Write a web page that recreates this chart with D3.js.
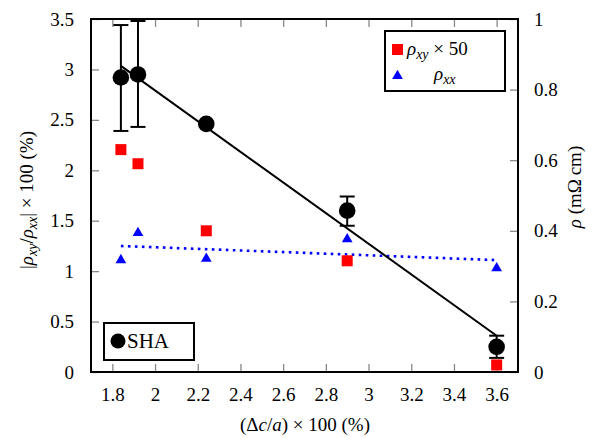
<!DOCTYPE html>
<html><head><meta charset="utf-8">
<script src="https://cdn.jsdelivr.net/npm/d3@7"></script>
<style>body{margin:0;background:#fff}</style>
</head><body><svg id="c" width="599" height="438"></svg>
<script>
// ---- data ----
const xVals = [1.84, 1.92, 2.24, 2.90, 3.60];
const shaVals = [2.92, 2.95, 2.46, 1.60, 0.25];
const shaErrHi = [3.44, 3.48, 2.46, 1.74, 0.36];
const shaErrLo = [2.39, 2.43, 2.46, 1.45, 0.14];
const rhoXY50 = [0.63, 0.59, 0.40, 0.315, 0.02];
const rhoXX = [0.32, 0.397, 0.324, 0.379, 0.297];
const shaFitX = [1.84, 3.60];
const shaFitY = [3.035, 0.36];
const rhoFitX = [1.84, 3.60];
const rhoFitY = [0.357, 0.317];
const xTicks = [1.8, 2, 2.2, 2.4, 2.6, 2.8, 3, 3.2, 3.4, 3.6];
const yLeftTicks = [0, 0.5, 1, 1.5, 2, 2.5, 3, 3.5];
const yRightTicks = [0, 0.2, 0.4, 0.6, 0.8, 1];

// pick an installed serif face
function detectFont(cands){
  const c = document.createElement("canvas").getContext("2d");
  const s = "mmmmmmwwwwlli 0123456789 SHA";
  const base = ["monospace", "sans-serif"].map(b => { c.font = "40px " + b; return c.measureText(s).width; });
  for (const f of cands){
    const ok = ["monospace", "sans-serif"].some((b, i) => { c.font = `40px "${f}", ${b}`; return c.measureText(s).width !== base[i]; });
    if (ok) return `"${f}", serif`;
  }
  return "serif";
}
const FONT = detectFont(["Liberation Serif", "DejaVu Serif", "Noto Serif", "Times New Roman", "Tinos", "FreeSerif", "Nimbus Roman", "Latin Modern Roman", "CMU Serif"]);

const svg = d3.select("#c");
const L = 91, R = 518, T = 19, B = 372;
const x = d3.scaleLinear().domain([1.7, 3.7]).range([L, R]);
const yL = d3.scaleLinear().domain([0, 3.5]).range([B, T]);
const yR = d3.scaleLinear().domain([0, 1]).range([B, T]);
const FS = 19;
const fmt = v => String(+v.toFixed(2));
const tickLen = 8, tickCol = "#888";

function styleAxis(g){
  g.attr("font-family", FONT).attr("font-size", FS);
  g.select(".domain").remove();
  g.selectAll(".tick line").attr("stroke", tickCol).attr("stroke-width", 1.3);
}
svg.append("g").attr("transform", `translate(0,${B})`)
  .call(d3.axisBottom(x).tickValues(xTicks).tickFormat(fmt).tickSizeInner(-tickLen).tickSizeOuter(0).tickPadding(16))
  .call(styleAxis);
svg.append("g").attr("transform", `translate(0,${T})`)
  .call(d3.axisTop(x).tickValues(xTicks).tickFormat("").tickSizeInner(-tickLen).tickSizeOuter(0))
  .call(styleAxis);
svg.append("g").attr("transform", `translate(${L},0)`)
  .call(d3.axisLeft(yL).tickValues(yLeftTicks).tickFormat(fmt).tickSizeInner(-tickLen).tickSizeOuter(0).tickPadding(17))
  .call(styleAxis);
svg.append("g").attr("transform", `translate(${R},0)`)
  .call(d3.axisRight(yR).tickValues(yRightTicks).tickFormat(fmt).tickSizeInner(-tickLen).tickSizeOuter(0).tickPadding(16))
  .call(styleAxis);

svg.append("rect").attr("x", L).attr("y", T).attr("width", R - L).attr("height", B - T)
  .attr("fill", "none").attr("stroke", "#000").attr("stroke-width", 2);

const line = d3.line();
svg.append("path").attr("d", line(rhoFitX.map((v, i) => [x(v), yR(rhoFitY[i])])))
  .attr("stroke", "#00f").attr("stroke-width", 2.6).attr("stroke-dasharray", "2.6,4.4").attr("fill", "none");
svg.append("path").attr("d", line(shaFitX.map((v, i) => [x(v), yL(shaFitY[i])])))
  .attr("stroke", "#000").attr("stroke-width", 2).attr("fill", "none");

svg.append("g").selectAll("rect").data(xVals).join("rect")
  .attr("x", (d) => x(d) - 5.5).attr("y", (d, i) => yR(rhoXY50[i]) - 5.5)
  .attr("width", 11).attr("height", 11).attr("fill", "#f00");
const tri = d3.symbol().type(d3.symbolTriangle).size(50);
svg.append("g").selectAll("path").data(xVals).join("path")
  .attr("d", tri).attr("transform", (d, i) => `translate(${x(d)},${yR(rhoXX[i]) + 1})`).attr("fill", "#00f");

const eb = svg.append("g").attr("stroke", "#000").attr("stroke-width", 2);
xVals.forEach((d, i) => {
  if (shaErrHi[i] === shaErrLo[i]) return;
  const cx = x(d);
  eb.append("line").attr("x1", cx).attr("x2", cx).attr("y1", yL(shaErrHi[i])).attr("y2", yL(shaErrLo[i]));
  eb.append("line").attr("x1", cx - 7.5).attr("x2", cx + 7.5).attr("y1", yL(shaErrHi[i])).attr("y2", yL(shaErrHi[i]));
  eb.append("line").attr("x1", cx - 7.5).attr("x2", cx + 7.5).attr("y1", yL(shaErrLo[i])).attr("y2", yL(shaErrLo[i]));
});
svg.append("g").selectAll("circle").data(xVals).join("circle")
  .attr("cx", d => x(d)).attr("cy", (d, i) => yL(shaVals[i])).attr("r", 8.3).attr("fill", "#000");

function txt(parent, attrs){
  const t = parent.append("text").attr("font-family", FONT).attr("font-size", FS).attr("fill", "#000");
  for (const k in attrs) t.attr(k, attrs[k]);
  return t;
}
function sub(t, s){ t.append("tspan").attr("font-style", "italic").attr("font-size", 14).attr("dy", 4).text(s); }

const lg = svg.append("g");
lg.append("rect").attr("x", 385).attr("y", 31).attr("width", 120).attr("height", 60)
  .attr("fill", "#fff").attr("stroke", "#000").attr("stroke-width", 2);
lg.append("rect").attr("x", 392).attr("y", 44).attr("width", 11).attr("height", 11).attr("fill", "#f00");
lg.append("path").attr("d", tri).attr("transform", "translate(397.5,76)").attr("fill", "#00f");
const t1 = txt(lg, {x: 407, y: 55});
t1.append("tspan").attr("font-style", "italic").text("ρ");
sub(t1, "xy");
t1.append("tspan").attr("dy", -4).text(" × 50");
const t2 = txt(lg, {x: 434, y: 80});
t2.append("tspan").attr("font-style", "italic").text("ρ");
sub(t2, "xx");

const lg2 = svg.append("g");
lg2.append("rect").attr("x", 104).attr("y", 323).attr("width", 90).attr("height", 37)
  .attr("fill", "#fff").attr("stroke", "#000").attr("stroke-width", 2);
lg2.append("circle").attr("cx", 118).attr("cy", 341).attr("r", 7.5).attr("fill", "#000");
txt(lg2, {x: 127, y: 348, "font-size": 21}).text("SHA");

const xl = txt(svg, {x: 305, y: 431, "text-anchor": "middle"});
xl.append("tspan").text("(Δ");
xl.append("tspan").attr("font-style", "italic").text("c");
xl.append("tspan").text("/");
xl.append("tspan").attr("font-style", "italic").text("a");
xl.append("tspan").text(") × 100 (%)");

const yl = txt(svg, {transform: "translate(33,200) rotate(-90)", "text-anchor": "middle"});
yl.append("tspan").text("|");
yl.append("tspan").attr("font-style", "italic").text("ρ");
sub(yl, "xy");
yl.append("tspan").attr("dy", -4).text("/");
yl.append("tspan").attr("font-style", "italic").text("ρ");
sub(yl, "xx");
yl.append("tspan").attr("dy", -4).text("| × 100 (%)");

const yr = txt(svg, {transform: "translate(581,187) rotate(-90)", "text-anchor": "middle"});
yr.append("tspan").attr("font-style", "italic").text("ρ");
yr.append("tspan").text(" (mΩ\u2009cm)");
</script></body></html>
